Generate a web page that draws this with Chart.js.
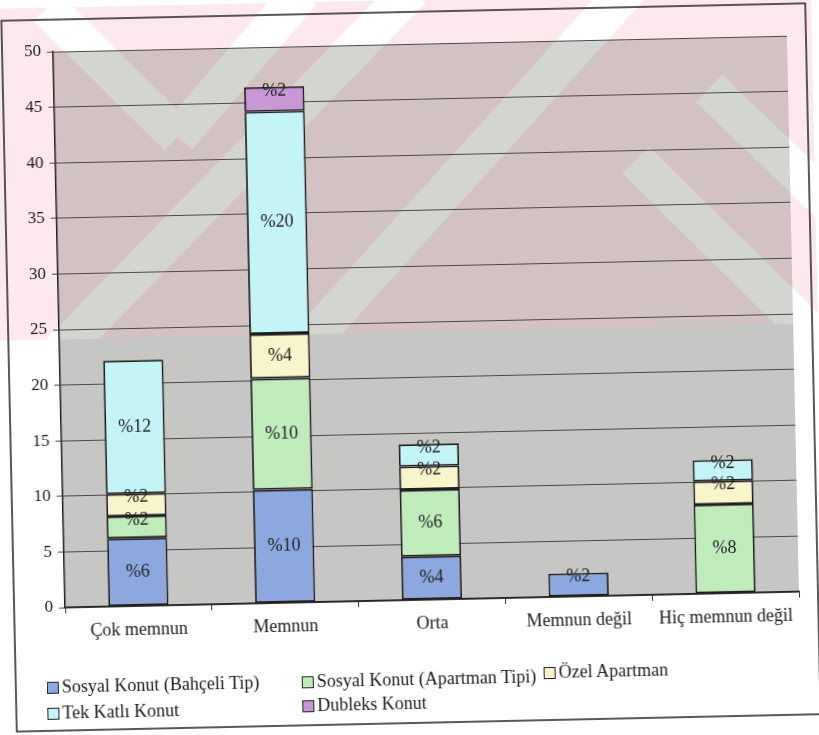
<!DOCTYPE html>
<html>
<head>
<meta charset="utf-8">
<script src="https://cdn.jsdelivr.net/npm/chart.js@4.4.0/dist/chart.umd.min.js"></script>
<style>
  html, body { margin: 0; padding: 0; background: #fff; overflow: hidden; }
  #wrap { position: relative; width: 819px; height: 735px; transform: rotate(-1.24deg); transform-origin: 50% 50%; }
  #chart { position: absolute; left: 0; top: 0; }
  .leg { position: absolute; font: 18px "Liberation Serif", serif; color: #1a1a1a; white-space: nowrap; line-height: 20px; }
  .leg i { display: inline-block; width: 10px; height: 10px; border: 1.5px solid #222; margin-right: 3px; vertical-align: -1px; }
</style>
</head>
<body>
<div id="wrap">
  <canvas id="chart" width="819" height="735"></canvas>
  <div id="legend"></div>
</div>
<script>
// values (stacked, y axis 0-50)
const categories   = ['Çok memnun', 'Memnun', 'Orta', 'Memnun değil', 'Hiç memnun değil'];
const bahceli      = [6.1, 10.2, 3.9, 2.1, null];
const apartmanTipi = [2.0, 10.0, 6.0, null, 8.0];
const ozelApartman = [2.0, 4.0, 2.1, null, 2.1];
const tekKatli     = [12.0, 20.0, 2.0, null, 1.9];
const dubleks      = [null, 2.2, null, null, null];
const seriesNames  = ['Sosyal Konut (Bahçeli Tip)', 'Sosyal Konut (Apartman Tipi)', 'Özel Apartman', 'Tek Katlı Konut', 'Dubleks Konut'];
const seriesColors = ['#8ca8de', '#c0ecbc', '#f8f4cc', '#c4f4f6', '#c996d6'];
const yMax = 50, yStep = 5;

const serif = '"Liberation Serif", "Times New Roman", serif';

// scanned background: grey plot + pink watermark band on top
const background = {
  id: 'background',
  beforeDraw(chart) {
    const { ctx, chartArea: a } = chart;
    const bands = (color) => {
      ctx.strokeStyle = color;
      ctx.lineWidth = 38;
      ctx.lineCap = 'butt';
      [[55, 0, 183, 132], [183, 132, 310, -10], [55, 350, 420, -10],
       [300, 350, 640, -10], [640, 165, 820, 350], [715, 95, 840, 220]].forEach(s => {
        ctx.beginPath(); ctx.moveTo(s[0], s[1]); ctx.lineTo(s[2], s[3]); ctx.stroke();
      });
    };
    ctx.save();
    ctx.fillStyle = '#fff';
    ctx.fillRect(0, 0, chart.width, chart.height);
    ctx.fillStyle = '#c6c6c4';
    ctx.fillRect(a.left, a.top, a.right - a.left, a.bottom - a.top);
    ctx.beginPath(); ctx.rect(0, 0, chart.width, 332); ctx.clip();
    ctx.fillStyle = '#fde9ed';
    ctx.fillRect(0, 0, chart.width, 332);
    bands('#ffffff');
    ctx.beginPath(); ctx.rect(a.left, a.top, a.right - a.left, a.bottom - a.top); ctx.clip();
    ctx.fillStyle = '#d2c2c3';
    ctx.fillRect(a.left, a.top, a.right - a.left, a.bottom - a.top);
    bands('#d4d4d1');
    ctx.restore();
  },
  afterDraw(chart) {
    const ctx = chart.ctx;
    ctx.save();
    ctx.strokeStyle = '#222';
    ctx.lineWidth = 1.5;
    ctx.strokeRect(9, 12, 804, 711);
    ctx.restore();
  }
};

// percentage labels on each segment
const segLabels = {
  id: 'segLabels',
  afterDatasetsDraw(chart) {
    const ctx = chart.ctx;
    ctx.save();
    ctx.font = '18px ' + serif;
    ctx.fillStyle = '#222';
    ctx.textAlign = 'center';
    ctx.textBaseline = 'middle';
    chart.data.datasets.forEach((ds, i) => {
      chart.getDatasetMeta(i).data.forEach((el, j) => {
        const v = ds.data[j];
        if (v == null) return;
        const y = v < 3 ? el.y + 4 : (el.y + el.base) / 2;
        ctx.fillText('%' + Math.round(v), el.x, y);
      });
    });
    ctx.restore();
  }
};

const seriesData = [bahceli, apartmanTipi, ozelApartman, tekKatli, dubleks];

new Chart(document.getElementById('chart'), {
  type: 'bar',
  data: {
    labels: categories,
    datasets: seriesData.map((d, i) => ({
      label: seriesNames[i],
      data: d,
      backgroundColor: seriesColors[i],
      borderColor: '#1e1e1e',
      borderWidth: 1.8,
      borderSkipped: false,
      barPercentage: 0.41,
      categoryPercentage: 1
    }))
  },
  options: {
    responsive: false,
    animation: false,
    layout: { padding: { left: 0, top: 44, right: 25, bottom: 0 } },
    plugins: { legend: { display: false }, tooltip: { enabled: false } },
    scales: {
      x: {
        stacked: true,
        grid: { drawOnChartArea: false, offset: true, color: '#333', tickLength: 6 },
        border: { color: '#222', width: 1.5 },
        ticks: { color: '#1a1a1a', font: { family: serif, size: 18 }, padding: 7 },
        afterFit(s) { s.height = 135; }
      },
      y: {
        stacked: true,
        min: 0,
        max: yMax,
        ticks: { stepSize: yStep, color: '#1a1a1a', font: { family: serif, size: 17 }, padding: 6 },
        grid: { color: '#4a4a4a', tickLength: 6, lineWidth: 1 },
        border: { color: '#222', width: 1.5 },
        afterFit(s) { s.width = 60; }
      }
    }
  },
  plugins: [background, segLabels]
});

// legend laid out like the original (two rows, three columns)
const legendPos = [[40, 669], [295, 669], [537, 665], [40, 695], [295, 693]];
document.getElementById('legend').innerHTML = seriesNames.map((n, i) =>
  `<div class="leg" style="left:${legendPos[i][0]}px;top:${legendPos[i][1]}px"><i style="background:${seriesColors[i]}"></i>${n}</div>`
).join('');
</script>
</body>
</html>
